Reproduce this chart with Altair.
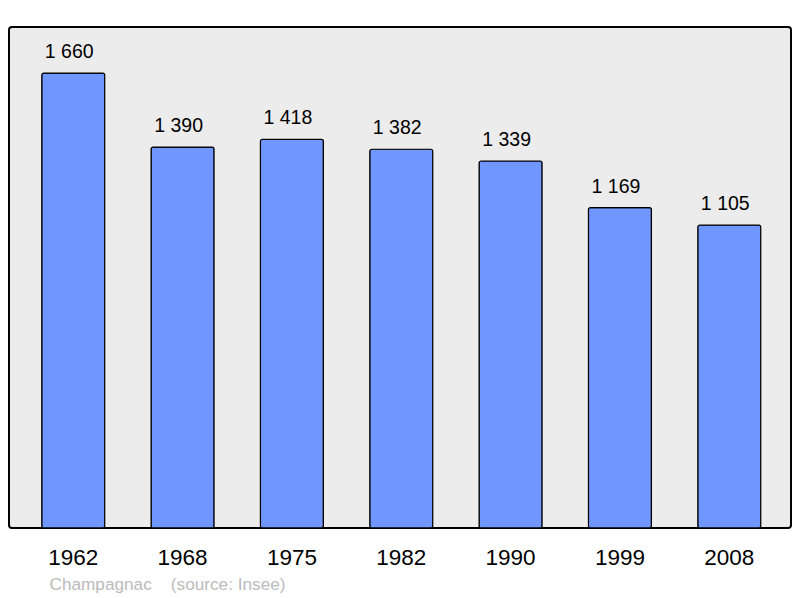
import altair as alt
import pandas as pd

years = ["1962", "1968", "1975", "1982", "1990", "1999", "2008"]
population = [1660, 1390, 1418, 1382, 1339, 1169, 1105]
labels = [f"{v:,}".replace(",", " ") for v in population]
footer = "Champagnac\u00a0\u00a0\u00a0\u00a0(source: Insee)"

df = pd.DataFrame({"year": years, "pop": population, "label": labels})

x = alt.X(
    "year:N",
    sort=years,
    scale=alt.Scale(paddingInner=0.424, paddingOuter=0.288, align=0.52),
    axis=alt.Axis(
        title=footer,
        titleX=40,
        titleY=61,
        titleAlign="left",
        titleBaseline="alphabetic",
        titleAnchor="start",
        titleColor="#bbbbbb",
        titleFontSize=17.2,
        titleFontWeight="normal",
        titleFont="Liberation Sans",
        labelAngle=0,
        labelFontSize=22.5,
        labelFont="Liberation Sans",
        labelColor="#000000",
        labelPadding=36,
        labelBaseline="alphabetic",
        domain=False,
        ticks=False,
        grid=False,
    ),
)
y = alt.Y(
    "pop:Q",
    scale=alt.Scale(domain=[0, 1828], nice=False, zero=True),
    axis=None,
)

bars = alt.Chart(df).mark_bar(
    fill="#7096ff", stroke="#000000", strokeWidth=1.2, cornerRadius=2
).encode(x=x, y=y)

text = alt.Chart(df).mark_text(
    baseline="alphabetic", dy=-15, dx=-4, fontSize=19.5, font="Liberation Sans", color="#000000"
).encode(x=alt.X("year:N", sort=years), y="pop:Q", text="label:N")

chart = (
    alt.layer(bars, text)
    .properties(
        width=782,
        height=501,
        autosize=alt.AutoSizeParams(type="none"),
        padding={"left": 1, "right": 1, "top": 19, "bottom": 68},
        background="#ffffff",
    )
    .configure_view(fill="#ececec", stroke="#000000", strokeWidth=2, cornerRadius=3)
)

chart.save("out.html", embed_options={"renderer": "svg", "actions": False})
